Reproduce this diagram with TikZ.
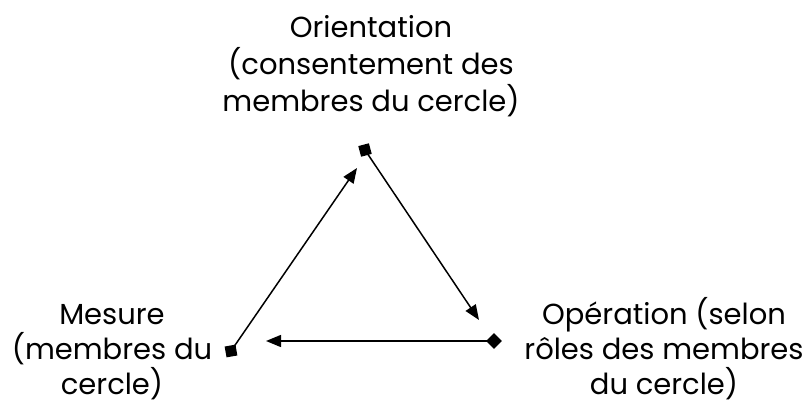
\documentclass[tikz,border=0pt]{standalone}
\usepackage{fontspec}
\setmainfont{Poppins}
\usetikzlibrary{arrows.meta}
\tikzset{
  lbl/.style={align=center, inner sep=0pt, font=\fontsize{29}{35}\selectfont, text=black},
  sqmark/.style={draw=none, fill=black, minimum size=11pt, inner sep=0pt},
  dmmark/.style={draw=none, fill=black, minimum size=11pt, inner sep=0pt, rotate=45},
  conn/.style={line width=1.5pt, -{Triangle[length=15pt,width=12pt]}},
}
\begin{document}
\begin{tikzpicture}[x=1pt,y=-1pt]
\useasboundingbox (0,0) rectangle (808,406);
% labels
\node[lbl, anchor=north, font=\fontsize{29}{37}\selectfont] (ori) at (371,15) {Orientation\\(consentement des\\membres du cercle)};
\node[lbl, anchor=south] (mes) at (112,400) {Mesure\\(membres du\\cercle)};
\node[lbl, anchor=south] (ope) at (664,400) {Opération (selon\\rôles des membres\\du cercle)};
% markers
\node[sqmark, rotate=15] (mt) at (365,150) {};
\node[sqmark, rotate=10] (ml) at (231,351) {};
\node[dmmark] (mr) at (494,341) {};
% arrow tips
\coordinate (t1) at (357,168);
\coordinate (t2) at (479,320);
\coordinate (t3) at (266,341);
% connectors
\draw[conn] (ml.center) -- (t1);
\draw[conn] (mt.center) -- (t2);
\draw[conn] (mr.center) -- (t3);
\end{tikzpicture}
\end{document}
